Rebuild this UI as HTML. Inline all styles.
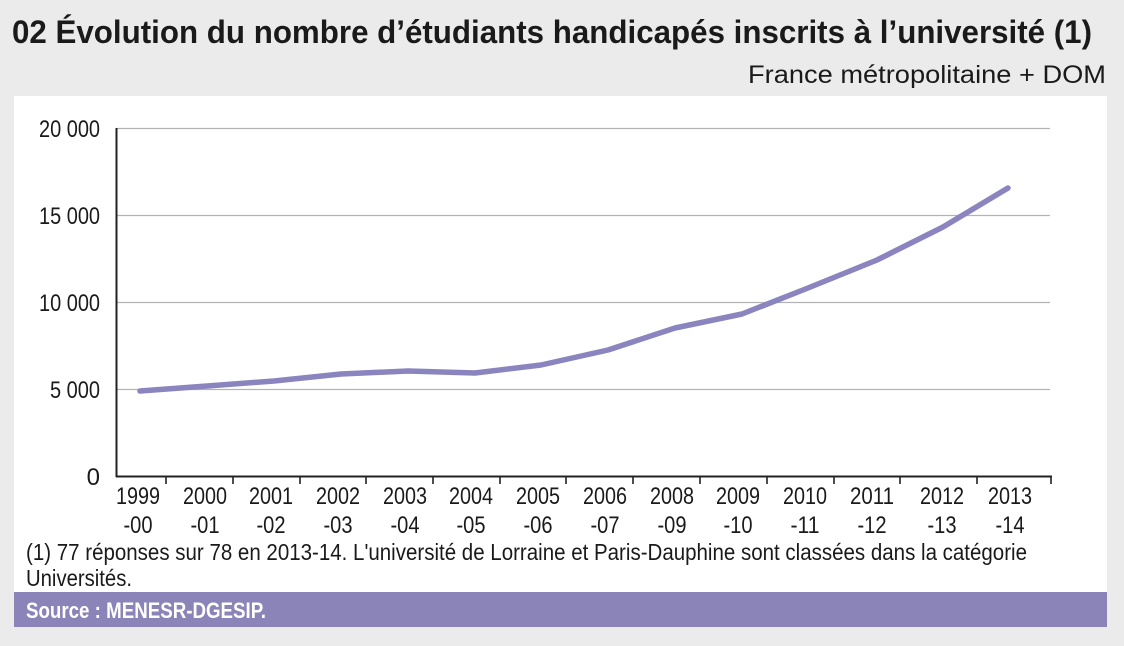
<!DOCTYPE html>
<html><head><meta charset="utf-8"><style>
body{margin:0;width:1124px;height:641px;background:#ebebeb;font-family:"Liberation Sans",sans-serif;overflow:hidden}
</style></head><body>
<svg width="1124" height="641" xmlns="http://www.w3.org/2000/svg" font-family="Liberation Sans, sans-serif">
<rect x="0" y="0" width="1124" height="641" fill="#ebebeb"/>
<text x="12" y="43" font-size="32" font-weight="bold" fill="#1a1a1a" textLength="1080" lengthAdjust="spacingAndGlyphs">02  Évolution du nombre d’étudiants handicapés inscrits à l’université (1)</text>
<text x="1106" y="83" font-size="25" fill="#1a1a1a" text-anchor="end" textLength="358" lengthAdjust="spacingAndGlyphs">France métropolitaine + DOM</text>
<rect x="14" y="96" width="1093" height="497" fill="#fff"/>
<rect x="14" y="592" width="1093" height="35" fill="#8a84b8"/>
<text x="26" y="618" font-size="22" font-weight="bold" fill="#fff" textLength="240" lengthAdjust="spacingAndGlyphs">Source : MENESR-DGESIP.</text>
<g stroke="#b3b3b3" stroke-width="1.3">
<line x1="116" y1="128.5" x2="1050" y2="128.5"/>
<line x1="116" y1="215.5" x2="1050" y2="215.5"/>
<line x1="116" y1="302.5" x2="1050" y2="302.5"/>
<line x1="116" y1="389.5" x2="1050" y2="389.5"/>
</g>
<g stroke="#222" stroke-width="2">
<line x1="116.5" y1="128" x2="116.5" y2="477"/>
<line x1="116" y1="476.5" x2="1052" y2="476.5"/>
<g stroke-width="1.6">
<line x1="166" y1="476" x2="166" y2="484"/><line x1="233" y1="476" x2="233" y2="484"/><line x1="300" y1="476" x2="300" y2="484"/><line x1="366" y1="476" x2="366" y2="484"/><line x1="433" y1="476" x2="433" y2="484"/><line x1="500" y1="476" x2="500" y2="484"/><line x1="566" y1="476" x2="566" y2="484"/><line x1="633" y1="476" x2="633" y2="484"/><line x1="700" y1="476" x2="700" y2="484"/><line x1="767" y1="476" x2="767" y2="484"/><line x1="834" y1="476" x2="834" y2="484"/><line x1="900" y1="476" x2="900" y2="484"/><line x1="977" y1="476" x2="977" y2="484"/><line x1="1051" y1="476" x2="1051" y2="484"/>
</g></g>
<g font-size="24" fill="#1a1a1a" text-anchor="end" lengthAdjust="spacingAndGlyphs">
<text x="100" y="137" textLength="61" lengthAdjust="spacingAndGlyphs">20 000</text><text x="100" y="224" textLength="61" lengthAdjust="spacingAndGlyphs">15 000</text><text x="100" y="311" textLength="61" lengthAdjust="spacingAndGlyphs">10 000</text><text x="100" y="398" textLength="50" lengthAdjust="spacingAndGlyphs">5 000</text><text x="100" y="485">0</text>
</g>
<g font-size="24" fill="#1a1a1a" text-anchor="middle">
<text x="138" y="504" textLength="44" lengthAdjust="spacingAndGlyphs">1999</text><text x="138" y="533" textLength="29" lengthAdjust="spacingAndGlyphs">-00</text>
<text x="205" y="504" textLength="44" lengthAdjust="spacingAndGlyphs">2000</text><text x="205" y="533" textLength="29" lengthAdjust="spacingAndGlyphs">-01</text>
<text x="271" y="504" textLength="44" lengthAdjust="spacingAndGlyphs">2001</text><text x="271" y="533" textLength="29" lengthAdjust="spacingAndGlyphs">-02</text>
<text x="338" y="504" textLength="44" lengthAdjust="spacingAndGlyphs">2002</text><text x="338" y="533" textLength="29" lengthAdjust="spacingAndGlyphs">-03</text>
<text x="405" y="504" textLength="44" lengthAdjust="spacingAndGlyphs">2003</text><text x="405" y="533" textLength="29" lengthAdjust="spacingAndGlyphs">-04</text>
<text x="471" y="504" textLength="44" lengthAdjust="spacingAndGlyphs">2004</text><text x="471" y="533" textLength="29" lengthAdjust="spacingAndGlyphs">-05</text>
<text x="538" y="504" textLength="44" lengthAdjust="spacingAndGlyphs">2005</text><text x="538" y="533" textLength="29" lengthAdjust="spacingAndGlyphs">-06</text>
<text x="605" y="504" textLength="44" lengthAdjust="spacingAndGlyphs">2006</text><text x="605" y="533" textLength="29" lengthAdjust="spacingAndGlyphs">-07</text>
<text x="672" y="504" textLength="44" lengthAdjust="spacingAndGlyphs">2008</text><text x="672" y="533" textLength="29" lengthAdjust="spacingAndGlyphs">-09</text>
<text x="738" y="504" textLength="44" lengthAdjust="spacingAndGlyphs">2009</text><text x="738" y="533" textLength="29" lengthAdjust="spacingAndGlyphs">-10</text>
<text x="805" y="504" textLength="44" lengthAdjust="spacingAndGlyphs">2010</text><text x="805" y="533" textLength="29" lengthAdjust="spacingAndGlyphs">-11</text>
<text x="872" y="504" textLength="44" lengthAdjust="spacingAndGlyphs">2011</text><text x="872" y="533" textLength="29" lengthAdjust="spacingAndGlyphs">-12</text>
<text x="942" y="504" textLength="44" lengthAdjust="spacingAndGlyphs">2012</text><text x="942" y="533" textLength="29" lengthAdjust="spacingAndGlyphs">-13</text>
<text x="1010" y="504" textLength="44" lengthAdjust="spacingAndGlyphs">2013</text><text x="1010" y="533" textLength="29" lengthAdjust="spacingAndGlyphs">-14</text>
</g>
<polyline fill="none" stroke="#8a84bf" stroke-width="5.5" stroke-linecap="round" stroke-linejoin="round"
points="140,391 207,386 274,381 341,374 408,371 475,373 541,365 608,350 675,328 742,314 808,288 877,260 943,227 1008,188"/>
<text x="26" y="560" font-size="23" fill="#1a1a1a" textLength="1001" lengthAdjust="spacingAndGlyphs">(1) 77 réponses sur 78 en 2013-14. L'université de Lorraine et Paris-Dauphine sont classées dans la catégorie</text>
<text x="26" y="586" font-size="23" fill="#1a1a1a" textLength="106" lengthAdjust="spacingAndGlyphs">Universités.</text>
</svg>
</body></html>
